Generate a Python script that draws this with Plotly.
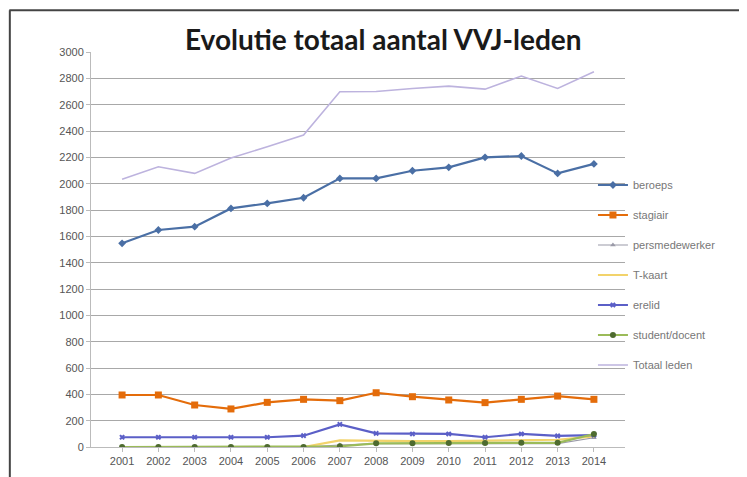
import plotly.graph_objects as go

years = [str(y) for y in range(2001, 2015)]
beroeps = [1547, 1648, 1673, 1812, 1850, 1893, 2040, 2040, 2098, 2124, 2200, 2210, 2078, 2150]
stagiair = [395, 395, 319, 289, 339, 362, 352, 412, 382, 357, 337, 362, 387, 362]
persmedewerker = [0, 0, 0, 0, 0, 0, 15, 25, 25, 25, 25, 25, 25, 70]
t_kaart = [0, 0, 0, 0, 0, 0, 50, 45, 45, 45, 50, 50, 55, 80]
erelid = [74, 74, 74, 74, 74, 86, 172, 104, 99, 99, 74, 99, 84, 90]
student_docent = [0, 0, 0, 0, 0, 0, 5, 28, 28, 30, 30, 32, 32, 99]
totaal = [2033, 2128, 2078, 2195, 2280, 2369, 2698, 2700, 2723, 2741, 2718, 2817, 2723, 2850]
y_ticks = list(range(0, 3001, 200))

series = [
    ("beroeps", beroeps, "#4A6FA5", "diamond", 6, 2.2),
    ("stagiair", stagiair, "#E46C0A", "square", 7, 2.2),
    ("persmedewerker", persmedewerker, "#9A9AA8", "triangle-up", 5, 1.2),
    ("T-kaart", t_kaart, "#F2D36B", None, 0, 2.2),
    ("erelid", erelid, "#5B5FC7", "x", 5, 2.2),
    ("student/docent", student_docent, "#9BBB59", "circle", 6, 2.2),
    ("Totaal leden", totaal, "#BDB3DE", None, 0, 1.6),
]

fig = go.Figure()
for name, vals, col, sym, msize, lw in series:
    mode = "lines+markers" if sym else "lines"
    mcol = "#4E6B2F" if name == "student/docent" else col
    fig.add_trace(go.Scatter(
        x=years, y=vals, name=name, mode=mode,
        line=dict(color=col, width=lw),
        marker=dict(symbol=sym or "circle", size=msize, color=mcol) if sym else None,
        legendgroup=name,
    ))

# page body has an 8px default margin, so the figure is sized/placed to compensate
fig.update_layout(
    width=739, height=469,
    margin=dict(l=83, r=122, t=44, b=30, autoexpand=False),
    paper_bgcolor="white", plot_bgcolor="white",
    font=dict(family="Liberation Sans", size=10, color="#555"),
    showlegend=True,
    legend=dict(x=0.94, xanchor="left", y=0.70, yanchor="top",
                font=dict(size=11, color="#777"), tracegroupgap=11,
                itemwidth=30, bgcolor="rgba(0,0,0,0)"),
    annotations=[dict(text="<b>Evolutie totaal aantal VVJ-leden</b>", x=0.548, y=1.0,
                      xref="paper", yref="paper", showarrow=False,
                      yanchor="bottom", yshift=-6,
                      font=dict(family="Lato", size=28, color="#1a1a1a"))],
    shapes=[
        dict(type="line", xref="paper", yref="paper", x0=-0.153, x1=1.3, y0=1.106, y1=1.106,
             line=dict(color="#444", width=2)),
        dict(type="line", xref="paper", yref="paper", x0=-0.152, x1=-0.152, y0=1.106, y1=-0.2,
             line=dict(color="#444", width=2)),
    ],
)
fig.update_xaxes(type="category", showgrid=False, showline=True, linecolor="#bbb",
                 ticks="outside", ticklen=4, tickcolor="#bbb",
                 tickfont=dict(size=11, color="#555"))
fig.update_yaxes(range=[0, 3000], tickvals=y_ticks, showgrid=True, gridcolor="#a8a8a8",
                 gridwidth=1, showline=True, linecolor="#bbb", ticks="outside",
                 ticklen=4, tickcolor="#bbb", zeroline=False,
                 tickfont=dict(size=11, color="#555"))
fig.write_html("out.html")
